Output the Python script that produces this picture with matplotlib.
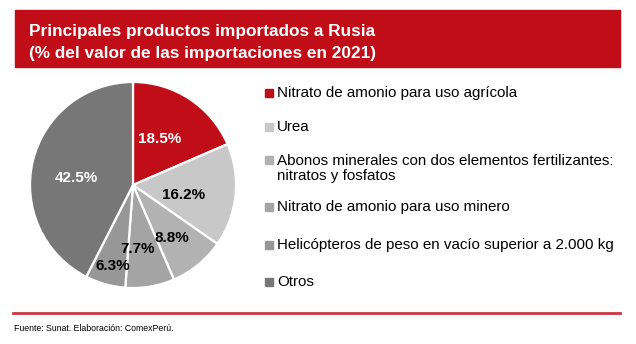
import numpy as np
import matplotlib
matplotlib.use("Agg")
import matplotlib.pyplot as plt
from matplotlib.patches import Rectangle

plt.rcParams['font.family'] = ['Liberation Sans', 'DejaVu Sans']

# data
productos = [
    "Nitrato de amonio para uso agrícola",
    "Urea",
    "Abonos minerales con dos elementos fertilizantes:\nnitratos y fosfatos",
    "Nitrato de amonio para uso minero",
    "Helicópteros de peso en vacío superior a 2.000 kg",
    "Otros",
]
shares = [18.5, 16.2, 8.8, 7.7, 6.3, 42.5]
colors = ["#C00D18", "#C8C8C8", "#B2B2B2", "#A4A4A4", "#979797", "#777777"]
label_colors = ["white", "black", "black", "black", "black", "white"]
label_dist = [0.52, 0.50, 0.64, 0.62, 0.81, 0.55]
label_shift = [3, -5, -3, -5, 2, 6]  # degrees, nudges labels like the original

W, H = 636, 344
fig = plt.figure(figsize=(W / 100, H / 100), dpi=100)

# header band
fig.patches.append(Rectangle((15 / W, 1 - 67 / H), 605 / W, 57 / H,
                             transform=fig.transFigure, color="#C00D18", zorder=0))
fig.text(29 / W, 1 - 36 / H, "Principales productos importados a Rusia",
         color="white", fontsize=12.4, fontweight="bold", va="baseline")
fig.text(29 / W, 1 - 58 / H, "(% del valor de las importaciones en 2021)",
         color="white", fontsize=12.4, fontweight="bold", va="baseline")

# pie
cx, cy, r = 133, 185, 103
ax = fig.add_axes([(cx - r) / W, 1 - (cy + r) / H, 2 * r / W, 2 * r / H])
wedges, _ = ax.pie(shares, colors=colors, startangle=90, counterclock=False,
                   wedgeprops=dict(edgecolor="white", linewidth=1.6))
ax.set_xlim(-1, 1)
ax.set_ylim(-1, 1)
ax.set_aspect("equal")

for w, val, c, d, s in zip(wedges, shares, label_colors, label_dist, label_shift):
    ang = np.deg2rad((w.theta1 + w.theta2) / 2 + s)
    ax.text(d * np.cos(ang), d * np.sin(ang), f"{val:.1f}%", color=c,
            fontsize=11, fontweight="bold", ha="center", va="center")

# legend
leg_y = [93, 127, 160, 207, 245, 282]
for name, col, y in zip(productos, colors, leg_y):
    fig.patches.append(Rectangle((265 / W, 1 - (y + 4) / H), 8 / W, 8 / H,
                                 transform=fig.transFigure, color=col))
    ty = y + 8.5 * name.count("\n")
    fig.text(277 / W, 1 - ty / H, name, fontsize=10.9, va="center",
             linespacing=1.15)

# bottom rule and source
fig.add_artist(plt.Line2D([13 / W, 620 / W], [1 - 313 / H, 1 - 313 / H],
                          transform=fig.transFigure, color="#CC3340", linewidth=2))
fig.text(14 / W, 1 - 331 / H, "Fuente: Sunat. Elaboración: ComexPerú.",
         fontsize=6.35, va="baseline")

fig.savefig("out.png", dpi=100)
